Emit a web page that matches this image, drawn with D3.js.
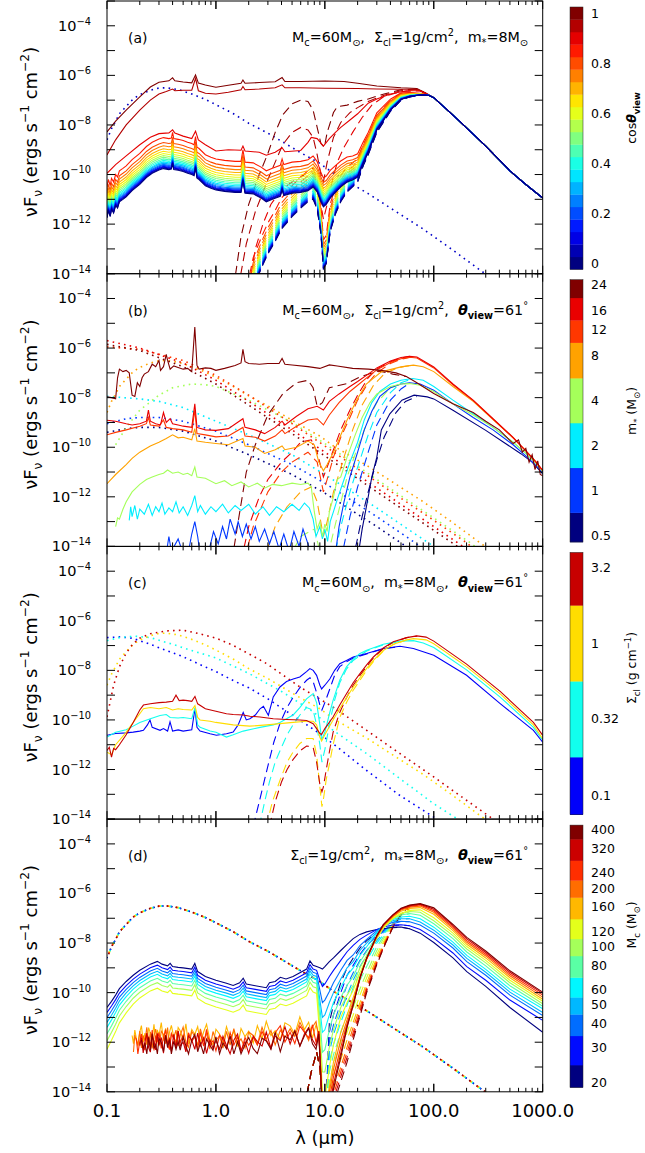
<!DOCTYPE html>
<html>
<head>
<meta charset="utf-8">
<script src="https://cdn.jsdelivr.net/npm/d3@7"></script>
<style>
  body { margin: 0; background: #fff; }
  svg { display: block; font-family: "DejaVu Sans", sans-serif; }
  text { white-space: pre; }
</style>
</head>
<body>
<svg id="chart" width="645" height="1153"></svg>
<script>
// ---------- axes ----------
const xTickValues = [0.1, 1, 10, 100, 1000];
const xTickLabels = ['0.1', '1.0', '10.0', '100.0', '1000.0'];
const yTickExps = [-4, -6, -8, -10, -12, -14];

// ---------- shared stellar spectrum (m*=8, Sigma=1, Mc=60), log10 nuFnu ----------
const starSed = [[0.1,-8.6],[0.11,-8.15],[0.12,-7.85],[0.13,-7.55],[0.15,-7.25],[0.174,-6.95],[0.2,-6.78],[0.25,-6.6],[0.3,-6.51],[0.35,-6.5],[0.45,-6.57],[0.6,-6.75],[0.8,-6.97],[1,-7.18],[1.45,-7.55],[2,-7.93],[3,-8.33],[5.9,-9.1],[9,-9.55],[12,-9.95],[25,-10.77],[49,-11.6],[77,-12.15],[100,-12.5],[150,-13.05],[265,-13.85],[400,-14.4]];

// ---------- panel (a): viewing angle ----------
const cosValues = [1, 0.95, 0.9, 0.85, 0.8, 0.75, 0.7, 0.65, 0.6, 0.55, 0.5, 0.45, 0.4, 0.35, 0.3, 0.25, 0.2, 0.15, 0.1, 0.05, 0];
const cosTicks = [0, 0.2, 0.4, 0.6, 0.8, 1];
const aTail = [[100,-6.9],[150,-7.6],[200,-8.12],[300,-8.85],[500,-9.85],[700,-10.4],[1000,-10.95]];
const aSolid100 = [[0.1,-8.28],[0.12,-7.85],[0.15,-7.4],[0.2,-6.87],[0.25,-6.47],[0.3,-6.28],[0.37,-6.22],[0.4,-6.1],[0.42,-6.22],[0.5,-6.27],[0.6,-6.3],[0.65,-5.98],[0.69,-6.31],[0.8,-6.39],[1,-6.48],[1.3,-6.4],[1.7,-6.32],[1.77,-6.19],[1.85,-6.32],[2.5,-6.29],[3.5,-6.26],[4.05,-6.09],[4.3,-6.25],[6,-6.25],[10,-6.23],[15,-6.25],[20,-6.32],[30,-6.43],[50,-6.5],[70,-6.53],[85,-6.72]];
const aSolid095 = [[0.1,-9.21],[0.12,-8.6],[0.15,-8.0],[0.2,-7.4],[0.25,-7.0],[0.3,-6.75],[0.35,-6.65],[0.4,-6.55],[0.42,-6.62],[0.5,-6.6],[0.6,-6.6],[0.65,-6.12],[0.69,-6.62],[0.8,-6.72],[1,-6.75],[1.3,-6.68],[1.7,-6.58],[1.77,-6.45],[1.85,-6.58],[2.5,-6.55],[3.5,-6.5],[4.05,-6.38],[4.3,-6.5],[6,-6.5],[10,-6.52],[20,-6.53],[30,-6.55],[50,-6.56],[70,-6.56],[85,-6.74]];
const aSolid090 = [[0.1,-9.95],[0.12,-9.6],[0.15,-9.25],[0.2,-8.8],[0.25,-8.5],[0.3,-8.35],[0.37,-8.32],[0.4,-8.2],[0.42,-8.33],[0.5,-8.45],[0.6,-8.55],[0.65,-8.25],[0.69,-8.6],[0.8,-8.8],[1,-9.05],[1.3,-9.0],[1.7,-9.02],[1.77,-8.85],[1.85,-9.05],[2.5,-9.1],[2.9,-9.22],[3.5,-9.1],[4.05,-8.92],[4.3,-9.08],[6,-9.03],[7,-8.7],[7.5,-8.5],[8.5,-8.55],[9.7,-8.85],[11,-8.55],[12.5,-8.3],[14,-8.1],[17,-7.8],[20,-7.55],[25,-7.12],[30,-6.95],[40,-6.75],[56,-6.62],[75,-6.62],[90,-6.78]];
// cos=0 member of the lower bundle, the other members sit above it by a lift that fades out towards the peak
const aBundleBase = [[0.1,-11.75],[0.103,-11.45],[0.107,-11.7],[0.11,-11.4],[0.115,-11.55],[0.12,-11.25],[0.125,-11.35],[0.13,-11.1],[0.14,-11.0],[0.15,-10.9],[0.17,-10.65],[0.2,-10.4],[0.23,-10.12],[0.26,-9.95],[0.3,-9.82],[0.33,-9.76],[0.37,-9.8],[0.39,-9.78],[0.4,-9.55],[0.41,-9.8],[0.45,-9.83],[0.5,-9.88],[0.55,-9.95],[0.6,-10.0],[0.63,-10.05],[0.65,-9.72],[0.67,-10.15],[0.7,-10.2],[0.8,-10.45],[0.9,-10.55],[1,-10.62],[1.2,-10.68],[1.5,-10.72],[1.7,-10.72],[1.77,-10.25],[1.85,-10.75],[2.2,-10.78],[2.6,-10.95],[2.9,-11.1],[3.3,-11.0],[3.9,-10.88],[4.05,-10.62],[4.2,-10.85],[5,-10.75],[6,-10.72],[7,-10.65],[7.8,-10.5],[8.5,-10.7],[9.2,-11.1],[9.7,-11.3],[10.3,-11.2],[11.2,-10.95],[12.5,-10.72],[14,-10.5],[16,-10.3],[18,-10.22],[20,-10.1],[22.5,-9.55],[25,-9.1],[30,-8.2],[40,-7.4],[50,-6.97],[60,-6.85],[75,-6.79],[90,-6.8]];
const aBundleLift = [1.25, 1.05, 0.92, 0.8, 0.7, 0.61, 0.53, 0.46, 0.39, 0.33, 0.27, 0.22, 0.17, 0.13, 0.09, 0.06, 0.03, 0];
const aLiftFade = [[0.1,1],[8,1],[10,0.92],[20,0.75],[30,0.55],[40,0.35],[55,0.15],[75,0.05],[90,0]];
const aDash100 = [[1.45,-14.6],[1.7,-12.5],[2,-11.2],[2.5,-10.0],[3,-9.15],[3.5,-8.3],[4.1,-7.6],[5,-7.15],[6,-7.0],[7,-7.05],[7.8,-7.4],[8.5,-8.1],[9.2,-8.75],[9.9,-8.9],[10.5,-8.3],[12,-7.5],[13,-7.26],[16,-7.2],[20,-7.05],[25,-6.95],[35,-6.75],[50,-6.58],[70,-6.55],[85,-6.72]];
const aDash095 = [[1.6,-14.6],[1.9,-12.8],[2.3,-11.5],[3,-10.2],[3.5,-9.5],[4.1,-8.8],[5,-8.3],[6,-8.1],[7,-8.2],[7.8,-8.5],[8.5,-9.2],[9.2,-10.0],[9.7,-10.3],[10.5,-9.5],[12,-8.5],[14,-7.9],[17,-7.5],[20,-7.3],[25,-7.05],[35,-6.8],[50,-6.62],[70,-6.57],[85,-6.74]];
const aDash090 = [[2.0,-14.6],[2.3,-13.0],[2.7,-12.0],[3.2,-11.2],[4,-10.6],[5,-10.3],[6,-10.1],[7,-9.9],[7.8,-9.9],[8.5,-10.3],[9.2,-11.2],[9.7,-11.8],[10.5,-11.2],[11.5,-10.4],[13,-9.5],[15,-8.9],[18,-8.3],[22,-7.7],[27,-7.2],[35,-6.85],[50,-6.65],[75,-6.62],[90,-6.78]];
const aDashBase = [[1.6,-17.5],[2.2,-14.6],[2.6,-13.8],[3,-13.2],[3.5,-12.7],[4,-12.2],[5,-11.7],[6,-11.35],[7,-11.1],[7.8,-11.0],[8.5,-11.4],[9.2,-12.4],[9.7,-13.8],[10.3,-13.6],[11.2,-12.3],[12.5,-11.6],[14,-11.1],[16,-10.7],[18,-10.5],[20,-10.3],[22.5,-9.65],[25,-9.2],[30,-8.3],[40,-7.45],[50,-7.0],[60,-6.87],[75,-6.8],[90,-6.8]];

// ---------- panel (b): stellar mass ----------
const mStarValues = [0.5, 1, 2, 4, 8, 12, 16, 24];
const bSolid05 = [[20,-14.5],[22,-13.3],[24.3,-12.3],[27,-11.2],[30,-10.4],[33,-9.3],[39.5,-8.65],[51,-8.1],[66,-7.9],[87,-7.97],[100,-8.05],[150,-8.51],[300,-9.32],[630,-10.26],[800,-10.6],[1000,-11.07]];
const bSolid1 = [[0.35,-14.3],[0.37,-13.6],[0.39,-14.2],[0.45,-13.7],[0.5,-14.3],[0.55,-14.4],[0.6,-13.5],[0.64,-13.0],[0.68,-13.6],[0.72,-14.4],[0.85,-14.3],[0.95,-13.4],[1.05,-13.9],[1.15,-13.2],[1.25,-13.7],[1.35,-12.9],[1.5,-13.5],[1.6,-13.0],[1.75,-13.6],[1.9,-13.1],[2.1,-13.7],[2.3,-13.2],[2.5,-13.8],[2.8,-13.3],[3.1,-13.9],[3.4,-13.4],[3.8,-14.1],[4.2,-13.5],[4.7,-14.2],[5.2,-13.4],[5.8,-14.0],[6.3,-13.3],[7,-13.9],[7.6,-14.5],[9,-14.6],[11,-14.6],[12.5,-14.3],[13.5,-13.2],[15,-12.2],[17,-11.2],[20,-10.2],[23,-9.3],[27,-8.55],[32,-7.95],[40,-7.6],[50,-7.45],[60,-7.4],[75,-7.45],[100,-7.7],[150,-8.25],[230,-8.8],[350,-9.3],[535,-9.9],[700,-10.35],[850,-10.7],[1000,-11.0]];
const bSolid2 = [[0.16,-12.95],[0.165,-12.4],[0.17,-12.8],[0.18,-12.35],[0.19,-12.9],[0.2,-12.5],[0.22,-12.7],[0.24,-12.3],[0.26,-12.75],[0.28,-12.4],[0.3,-12.6],[0.32,-12.25],[0.34,-12.7],[0.37,-12.45],[0.4,-12.6],[0.43,-12.2],[0.46,-12.65],[0.5,-12.4],[0.55,-12.75],[0.6,-12.35],[0.64,-11.95],[0.68,-12.6],[0.72,-12.35],[0.8,-12.7],[0.9,-12.4],[1,-12.6],[1.15,-12.3],[1.3,-12.65],[1.5,-12.35],[1.7,-12.55],[2,-12.3],[2.3,-12.7],[2.7,-12.4],[3.1,-12.75],[3.6,-12.4],[4.2,-12.6],[5,-12.3],[5.8,-12.55],[6.5,-12.25],[7.2,-12.45],[7.8,-12.9],[8.3,-13.6],[9,-13.2],[9.5,-13.7],[10,-13.3],[10.6,-13.8],[11.2,-13.0],[12,-12.6],[13,-12.1],[15,-11.3],[17,-10.6],[20,-9.8],[23,-8.9],[27,-8.2],[32,-7.75],[40,-7.45],[50,-7.3],[64,-7.23],[80,-7.3],[100,-7.55],[150,-8.1],[230,-8.65],[350,-9.2],[535,-9.8],[700,-10.25],[850,-10.6],[1000,-10.97]];
const bSolid4 = [[0.12,-13.2],[0.125,-12.85],[0.13,-12.9],[0.14,-12.5],[0.15,-12.2],[0.17,-11.8],[0.2,-11.5],[0.23,-11.3],[0.26,-11.2],[0.3,-11.1],[0.33,-11.05],[0.36,-10.92],[0.4,-11.05],[0.45,-11.0],[0.5,-11.1],[0.55,-11.05],[0.6,-11.15],[0.64,-10.8],[0.67,-11.2],[0.8,-11.25],[1,-11.47],[1.2,-11.35],[1.4,-11.55],[1.7,-11.4],[2,-11.6],[2.4,-11.45],[2.8,-11.65],[3.3,-11.5],[4,-11.55],[5,-11.45],[6,-11.5],[7,-11.45],[7.5,-11.6],[8,-12.6],[8.5,-13.3],[9,-13.0],[9.5,-13.6],[10,-13.1],[10.5,-13.4],[11,-12.6],[12,-12.0],[13,-11.3],[14,-11.2],[16,-10.4],[19,-9.5],[22,-8.8],[26,-8.2],[30,-7.85],[40,-7.55],[50,-7.45],[60,-7.43],[75,-7.5],[100,-7.75],[150,-8.25],[230,-8.7],[350,-9.2],[535,-9.8],[700,-10.25],[850,-10.6],[1000,-10.97]];
const bSolid8 = [[0.1,-11.47],[0.12,-11.1],[0.15,-10.7],[0.17,-10.45],[0.2,-10.2],[0.25,-9.95],[0.3,-9.8],[0.35,-9.65],[0.4,-9.5],[0.45,-9.62],[0.5,-9.6],[0.6,-9.7],[0.64,-9.25],[0.67,-9.75],[0.8,-9.8],[1,-9.85],[1.3,-9.9],[1.77,-9.65],[1.85,-9.95],[2.3,-10.0],[2.8,-10.25],[3.5,-10.1],[4.05,-9.95],[4.3,-10.1],[5.5,-10.0],[7,-9.75],[8,-9.9],[8.8,-10.6],[9.7,-10.95],[10.5,-10.7],[12,-10.2],[13,-9.85],[16,-8.9],[19.6,-8.1],[24,-7.45],[33,-6.96],[50,-6.76],[65,-6.69],[80,-6.75],[100,-6.95],[150,-7.55],[230,-8.15],[350,-8.88],[535,-9.62],[700,-10.15],[850,-10.55],[1000,-10.95]];
const bSolid12 = [[0.1,-9.5],[0.12,-9.4],[0.15,-9.3],[0.2,-9.15],[0.23,-9.05],[0.24,-8.8],[0.25,-9.1],[0.3,-9.15],[0.33,-8.9],[0.35,-9.2],[0.4,-9.25],[0.5,-9.3],[0.6,-9.4],[0.64,-8.5],[0.67,-9.45],[0.8,-9.5],[1,-9.58],[1.3,-9.55],[1.77,-9.2],[1.85,-9.55],[2.3,-9.6],[2.8,-9.75],[3.5,-9.55],[4.05,-9.3],[4.3,-9.45],[5.5,-9.15],[7,-8.9],[8.5,-8.85],[9.7,-9.1],[11,-8.7],[13.5,-8.2],[17,-7.75],[20,-7.5],[25,-7.15],[30,-6.88],[40,-6.58],[50,-6.43],[60,-6.37],[70,-6.4],[100,-6.8],[150,-7.48],[230,-8.12],[350,-8.87],[535,-9.62],[700,-10.15],[850,-10.55],[1000,-10.95]];
const bSolid16 = [[0.1,-8.91],[0.12,-8.95],[0.15,-9.05],[0.17,-9.1],[0.2,-9.05],[0.23,-8.95],[0.24,-8.5],[0.25,-8.95],[0.28,-9.05],[0.31,-9.1],[0.33,-8.6],[0.35,-9.0],[0.38,-8.85],[0.4,-9.05],[0.45,-9.1],[0.5,-9.15],[0.6,-9.2],[0.64,-8.25],[0.67,-9.2],[0.8,-9.3],[1,-9.32],[1.3,-9.25],[1.77,-8.85],[1.85,-9.2],[2.3,-9.3],[2.8,-9.45],[3.5,-9.2],[4.05,-8.95],[4.3,-9.1],[5.5,-8.75],[7,-8.45],[8.5,-8.35],[9.7,-8.5],[11,-8.15],[13.5,-7.85],[17,-7.55],[20,-7.35],[25,-7.05],[30,-6.8],[40,-6.52],[50,-6.38],[60,-6.33],[70,-6.36],[100,-6.76],[150,-7.45],[230,-8.1],[350,-8.85],[535,-9.6],[700,-10.15],[850,-10.55],[1000,-10.93]];
const bSolid24 = [[0.1,-7.97],[0.11,-8.0],[0.12,-8.05],[0.125,-7.2],[0.13,-6.85],[0.14,-6.95],[0.15,-6.9],[0.16,-7.0],[0.17,-7.9],[0.18,-7.95],[0.19,-7.4],[0.2,-7.55],[0.21,-7.2],[0.22,-7.05],[0.24,-6.95],[0.26,-6.65],[0.28,-6.75],[0.3,-6.5],[0.31,-6.9],[0.33,-6.75],[0.35,-6.25],[0.36,-6.5],[0.38,-6.85],[0.41,-6.72],[0.45,-6.78],[0.5,-6.85],[0.55,-6.82],[0.6,-6.95],[0.64,-5.15],[0.67,-6.7],[0.7,-6.85],[0.8,-6.8],[0.9,-6.82],[1,-6.9],[1.2,-6.82],[1.5,-6.7],[1.7,-6.6],[1.77,-6.05],[1.85,-6.55],[2,-6.62],[2.5,-6.65],[3,-6.62],[3.8,-6.62],[4.05,-6.42],[4.3,-6.65],[5,-6.68],[7,-6.75],[9,-6.82],[11,-6.68],[13,-6.72],[18,-6.82],[25,-6.85],[33,-6.9],[45,-7.0],[56,-7.15],[70,-7.4],[100,-7.83],[150,-8.25],[230,-8.6],[300,-8.95],[400,-9.3],[535,-9.85],[600,-9.7],[650,-10.2],[700,-10.05],[750,-10.6],[800,-10.3],[850,-10.9],[900,-10.55],[950,-11.1],[1000,-11.15]];
const bDash05 = [[18,-14.6],[22,-12.8],[25,-11.8],[30,-10.5],[35,-9.6],[45,-8.6],[55,-8.15],[70,-7.95]];
const bDash1 = [[14,-14.6],[17,-12.8],[20,-11.6],[25,-10.2],[30,-9.1],[40,-8.1],[50,-7.65],[60,-7.42]];
const bDash2 = [[7,-14.6],[8,-14.0],[9,-14.6],[12,-14.6],[14,-13.2],[17,-11.8],[20,-10.8],[25,-9.5],[30,-8.6],[40,-7.8],[50,-7.4],[64,-7.23]];
const bDash4 = [[4.5,-14.6],[6,-13.6],[8,-13.3],[9.5,-14.6],[11,-14.1],[13,-12.8],[16,-11.2],[20,-10.0],[25,-8.9],[30,-8.2],[40,-7.6],[50,-7.45],[60,-7.43]];
const bDash8 = [[2.7,-14.6],[3.5,-13.2],[4.5,-12.4],[6,-11.8],[7.5,-11.6],[8.5,-12.2],[9.7,-13.6],[10.5,-13.0],[12,-11.8],[15,-10.4],[18,-9.3],[22,-8.3],[28,-7.5],[35,-7.05],[45,-6.82],[55,-6.73],[65,-6.69]];
const bDash12 = [[1.8,-14.6],[2.2,-13.2],[3,-11.8],[4,-11.0],[5,-10.6],[7,-10.2],[8.5,-10.6],[9.7,-11.8],[10.5,-11.3],[12,-10.4],[14,-9.6],[17,-8.8],[20,-8.1],[25,-7.4],[30,-7.0],[40,-6.62],[50,-6.45],[60,-6.38]];
const bDash16 = [[1.7,-14.6],[2,-13.2],[2.5,-12.0],[3,-11.3],[4,-10.6],[5,-10.2],[6,-9.8],[7.5,-9.7],[8.5,-10.2],[9.7,-11.2],[10.5,-10.8],[12,-10.1],[14,-9.3],[17,-8.5],[20,-7.9],[25,-7.2],[30,-6.85],[40,-6.55],[50,-6.4],[60,-6.33]];
const bDash24 = [[1.4,-14.6],[1.6,-13.0],[1.9,-11.0],[2.3,-9.9],[3,-8.7],[4.1,-7.85],[5.5,-7.4],[7,-7.3],[7.8,-7.6],[8.5,-8.35],[9.5,-8.2],[11,-7.6],[16,-7.43],[21,-7.16],[31,-6.92],[42,-7.05],[56,-7.15]];
const bDot05 = [[0.1,-9.4],[0.15,-9.25],[0.2,-9.2],[0.3,-9.2],[0.5,-9.35],[1,-9.75],[2,-10.3],[5,-11.1],[10,-11.85],[30,-13.2],[60,-14.1],[80,-14.5]];
const bDot1 = [[0.1,-9.05],[0.15,-8.85],[0.2,-8.8],[0.3,-8.8],[0.5,-8.95],[1,-9.35],[2,-9.9],[5,-10.7],[10,-11.45],[30,-12.8],[60,-13.7],[100,-14.4]];
const bDot2 = [[0.1,-7.95],[0.2,-8.05],[0.3,-8.15],[0.5,-8.4],[1,-8.95],[2,-9.5],[5,-10.3],[10,-11.1],[30,-12.45],[60,-13.35],[100,-14.0],[150,-14.5]];
const bDot4 = [[0.12,-9.9],[0.15,-9.2],[0.2,-8.5],[0.3,-7.9],[0.4,-7.6],[0.6,-7.45],[0.8,-7.48],[1,-7.55],[2,-8.1],[5,-9.0],[10,-9.85],[30,-11.3],[100,-12.85],[200,-13.75],[320,-14.4]];
const bDot12 = [[0.1,-5.95],[0.2,-6.05],[0.5,-6.5],[1,-7.1],[2,-7.9],[5,-9.05],[10,-9.95],[30,-11.4],[100,-12.95],[200,-13.85],[320,-14.6]];
const bDot16 = [[0.1,-5.7],[0.2,-6.0],[0.5,-6.6],[1,-7.3],[2,-8.15],[5,-9.3],[10,-10.2],[30,-11.65],[100,-13.2],[200,-14.1],[280,-14.6]];
const bDot24 = [[0.1,-5.85],[0.2,-6.1],[0.5,-6.75],[1,-7.45],[2,-8.3],[5,-9.45],[10,-10.35],[30,-11.8],[100,-13.35],[200,-14.25],[260,-14.6]];

// ---------- panel (c): clump surface density ----------
const sigmaValues = [0.1, 0.32, 1, 3.2];
const cSolid01 = [[0.1,-10.62],[0.12,-10.55],[0.15,-10.52],[0.174,-10.49],[0.2,-10.45],[0.216,-10.42],[0.235,-10.2],[0.248,-10.0],[0.26,-10.3],[0.307,-10.42],[0.33,-10.35],[0.36,-10.45],[0.379,-10.08],[0.4,-10.45],[0.45,-10.4],[0.5,-10.45],[0.6,-10.4],[0.642,-9.55],[0.67,-10.3],[0.715,-10.45],[0.884,-10.56],[1.01,-10.62],[1.25,-10.56],[1.44,-10.49],[1.6,-10.2],[1.78,-9.7],[1.9,-10.0],[2.05,-9.95],[2.3,-9.8],[2.54,-9.55],[2.73,-9.45],[2.93,-9.7],[3.03,-9.81],[3.36,-9.07],[3.87,-8.67],[4.45,-8.45],[5.12,-8.35],[5.89,-8.27],[6.79,-8.05],[7.29,-7.93],[7.81,-8.0],[8.4,-8.2],[9.0,-8.6],[9.34,-8.75],[10,-8.6],[11.1,-8.35],[12.3,-8.0],[13.7,-7.73],[15.8,-7.6],[18.2,-7.46],[24.2,-7.32],[34.4,-7.12],[49,-7.03],[65,-7.12],[100,-7.39],[200,-8.2],[407,-9.34],[822,-10.42],[1000,-10.9]];
const cSolid032 = [[0.1,-10.69],[0.12,-10.5],[0.15,-10.4],[0.174,-10.25],[0.2,-10.1],[0.25,-9.95],[0.307,-9.82],[0.35,-9.78],[0.38,-9.9],[0.45,-9.92],[0.5,-9.9],[0.6,-9.95],[0.642,-9.5],[0.68,-10.2],[0.715,-10.3],[0.884,-10.45],[1.0,-10.5],[1.25,-10.69],[1.44,-10.6],[1.78,-10.45],[2.54,-10.3],[3.36,-10.2],[3.87,-10.1],[4.45,-9.95],[5.12,-9.8],[5.89,-9.5],[6.79,-9.15],[7.81,-8.94],[8.4,-9.3],[9.0,-10.2],[9.34,-10.8],[10,-10.5],[11.1,-9.7],[11.9,-9.21],[13.7,-8.4],[15.8,-7.86],[18.2,-7.55],[21,-7.32],[24.2,-7.19],[34.4,-6.95],[49,-6.82],[65,-6.8],[80,-6.9],[100,-7.08],[200,-7.98],[407,-9.08],[822,-10.3],[1000,-10.82]];
const cSolid1 = [[0.1,-11.3],[0.11,-11.4],[0.12,-11.0],[0.15,-10.5],[0.174,-10.1],[0.2,-9.75],[0.216,-9.55],[0.25,-9.5],[0.3,-9.55],[0.35,-9.5],[0.4,-9.6],[0.45,-9.55],[0.5,-9.58],[0.6,-9.6],[0.642,-9.42],[0.68,-9.9],[0.715,-10.0],[0.884,-10.05],[1.0,-10.1],[1.44,-10.2],[2.05,-10.25],[2.93,-10.2],[3.87,-10.15],[5.12,-10.1],[6.79,-10.05],[7.81,-10.05],[8.4,-10.2],[9.0,-10.7],[9.34,-10.85],[10,-10.6],[11.9,-10.0],[13.7,-9.55],[15.8,-9.1],[18.2,-8.68],[21,-8.3],[24.2,-7.92],[27.9,-7.6],[34.4,-7.2],[42.5,-6.95],[56.4,-6.77],[65,-6.72],[85,-6.77],[100,-6.93],[200,-7.85],[407,-8.95],[822,-10.2],[1000,-10.76]];
const cSolid32 = [[0.1,-11.23],[0.105,-11.1],[0.11,-11.5],[0.115,-11.15],[0.12,-11.2],[0.13,-11.0],[0.15,-10.6],[0.174,-10.1],[0.2,-9.6],[0.216,-9.4],[0.25,-9.35],[0.3,-9.3],[0.35,-9.28],[0.4,-9.25],[0.43,-9.0],[0.46,-9.22],[0.5,-9.2],[0.55,-9.22],[0.6,-9.25],[0.642,-9.05],[0.68,-9.35],[0.8,-9.55],[1.0,-9.65],[1.25,-9.75],[1.44,-9.78],[1.78,-9.8],[2.05,-9.85],[2.54,-9.88],[3.36,-9.95],[4.45,-9.98],[5.89,-10.0],[6.79,-10.02],[7.81,-10.15],[8.4,-10.35],[9.0,-10.55],[9.34,-10.58],[10,-10.35],[11.9,-9.88],[13.7,-9.4],[15.8,-8.94],[18.2,-8.5],[21,-8.13],[24.2,-7.78],[27.9,-7.46],[34.4,-7.1],[42.5,-6.85],[56.4,-6.68],[70,-6.61],[85,-6.66],[100,-6.82],[200,-7.75],[407,-8.85],[822,-10.1],[1000,-10.62]];
const cDash01 = [[2.2,-14.3],[2.5,-13.3],[2.8,-12.4],[3.1,-11.6],[3.4,-10.9],[3.9,-10.1],[4.5,-9.5],[5.1,-9.1],[5.9,-8.7],[6.8,-8.4],[7.3,-8.3],[7.8,-8.45],[8.4,-8.9],[9,-9.4],[9.4,-9.6],[10,-9.3],[11.1,-8.75],[12.3,-8.2],[13.7,-7.85],[15.8,-7.65],[18.2,-7.5],[24.2,-7.34],[34.4,-7.13],[49,-7.04]];
const cDash032 = [[2.5,-14.3],[2.8,-13.3],[3.1,-12.5],[3.5,-11.7],[4,-11.1],[4.5,-10.6],[5.1,-10.2],[5.9,-9.8],[6.8,-9.5],[7.8,-9.6],[8.4,-10.2],[9,-11.0],[9.4,-11.7],[10,-11.2],[11.1,-10.1],[12.3,-9.2],[13.7,-8.5],[15.8,-7.95],[18.2,-7.6],[24.2,-7.22],[34.4,-6.97],[49,-6.83]];
const cDash1 = [[2.9,-14.3],[3.3,-13.3],[3.9,-12.4],[4.5,-11.7],[5.1,-11.3],[5.9,-10.95],[6.8,-10.75],[7.8,-10.75],[8.4,-11.4],[9,-12.7],[9.4,-13.5],[9.7,-13.2],[10.3,-12.4],[11.1,-11.7],[11.9,-11.0],[13.7,-9.9],[15.8,-9.3],[18.2,-8.8],[21,-8.4],[24.2,-8.0],[27.9,-7.65],[34.4,-7.22],[42.5,-6.96],[56.4,-6.77]];
const cDash32 = [[3.1,-14.3],[3.5,-13.3],[4,-12.5],[4.5,-12.0],[5.1,-11.6],[5.9,-11.25],[6.8,-11.05],[7.8,-11.1],[8.4,-11.7],[9,-12.6],[9.4,-12.9],[9.7,-12.7],[10.3,-12.0],[11.1,-11.2],[11.9,-10.5],[13.7,-9.7],[15.8,-9.1],[18.2,-8.6],[21,-8.2],[24.2,-7.85],[27.9,-7.5],[34.4,-7.12],[42.5,-6.87],[56.4,-6.68],[70,-6.62]];
const cDot01 = [[0.1,-6.68],[0.13,-6.65],[0.17,-6.7],[0.25,-6.95],[0.35,-7.2],[0.5,-7.45],[0.7,-7.75],[1,-8.05],[1.5,-8.45],[2,-8.7],[3,-9.15],[5,-9.8],[8,-10.4],[11.9,-10.96],[24.2,-12.04],[49,-13.05],[100,-13.92],[140,-14.4]];
const cDot032 = [[0.1,-6.8],[0.13,-6.68],[0.18,-6.62],[0.25,-6.68],[0.4,-6.95],[0.6,-7.2],[1,-7.5],[2,-8.12],[4,-8.85],[8,-9.7],[11.9,-10.42],[24.2,-11.36],[49,-12.37],[100,-13.38],[174,-14.06],[220,-14.4]];
const cDot32 = [[0.1,-9.88],[0.115,-8.6],[0.13,-7.86],[0.15,-7.3],[0.174,-6.92],[0.2,-6.7],[0.25,-6.52],[0.35,-6.41],[0.5,-6.38],[0.7,-6.52],[1,-6.7],[1.44,-6.99],[2.93,-7.73],[5.9,-8.67],[11.9,-9.48],[24.2,-10.42],[49,-11.36],[100,-12.3],[201,-13.25],[407,-14.2],[500,-14.5]];

// ---------- panel (d): clump mass ----------
const mcValues = [20, 30, 40, 50, 60, 80, 100, 120, 160, 200, 240, 320, 400];
// lower-mass clumps: short-wave shape of Mc=20 with constant offsets (Mc = 20 ... 120)
const dShortBase = [[0.1,-10.6],[0.11,-10.35],[0.12,-10.1],[0.13,-9.84],[0.15,-9.55],[0.174,-9.3],[0.2,-9.1],[0.25,-8.85],[0.29,-8.74],[0.32,-8.85],[0.36,-8.92],[0.38,-8.82],[0.4,-8.95],[0.45,-8.98],[0.5,-9.0],[0.6,-9.05],[0.64,-8.82],[0.68,-9.15],[0.8,-9.35],[1,-9.5],[1.25,-9.62],[1.44,-9.71],[1.65,-9.6],[1.78,-9.42],[1.9,-9.65],[2.3,-9.72],[2.9,-9.8],[3.1,-9.6],[3.5,-9.55],[3.9,-9.38],[4.4,-9.45],[5.1,-9.35],[5.9,-9.2],[6.8,-9.05],[7.3,-8.72],[7.8,-8.9],[8.4,-8.95]];
const dShortOffset = [0, -0.15, -0.28, -0.4, -0.52, -0.68, -0.86, -1.08];
// extra drop of the fainter low-mass curves towards 0.1 micron (Mc = 20 ... 120)
const dShortDrop = [0, 0.05, 0.12, 0.2, 0.28, 0.38, 0.48, 0.6];
const dDropFade = [[0.1,1],[0.13,0.5],[0.17,0.15],[0.22,0]];
// higher-mass clumps: noisy short-wave emission (Mc = 160 ... 400)
const dNoisyLam = [0.17,0.175,0.18,0.186,0.192,0.2,0.207,0.215,0.223,0.232,0.241,0.25,0.26,0.27,0.28,0.29,0.3,0.315,0.33,0.345,0.36,0.375,0.39,0.41,0.43,0.45,0.47,0.5,0.53,0.56,0.6,0.64,0.68,0.72,0.77,0.82,0.88,0.94,1.0,1.08,1.16,1.25,1.35,1.46,1.58,1.7,1.85,2.0,2.2,2.4,2.65,2.9,3.2,3.5,3.9,4.3,4.8,5.3,5.9,6.5,7.1,7.7,8.3,8.8];
const dNoise = [0.12,-0.22,0.31,-0.05,-0.38,0.18,0.42,-0.27,0.08,-0.41,0.26,0.02,-0.18,0.37,-0.33,0.15,-0.08,0.44,-0.29,0.21,-0.45,0.06,0.33,-0.14,-0.36,0.24,0.11,-0.26,0.39,-0.43,0.17,-0.02,0.29,-0.35,0.08,0.41,-0.2,-0.4,0.23,0.04,-0.31,0.36,-0.11,0.19,-0.44,0.28,-0.07,0.13,-0.37,0.32,-0.23,0.45,-0.16,0.01,-0.39,0.25,0.09,-0.28,0.38,-0.12,0.2,-0.42,0.14,-0.19];
const dNoisyTrend = [[0.17,-0.2],[0.25,0],[0.6,0],[1.5,-0.1],[3,0.05],[6,0.3],[8.8,0.2]];
const dNoisyLevel = [-11.65, -11.8, -11.9, -12.0, -12.1];
const dNoisyShift = [0, 9, 19, 31, 45];
const dNoisyStart = [0, 1, 3, 5, 6];
const dNoiseFloor = -12.47;
const dLongLam = [9, 9.5, 10, 11, 12, 14, 16, 18.2, 21, 24.2, 30, 34.4, 42, 50, 60, 75, 100, 150, 201, 300, 500, 1000];
const dLong = [
  [-9.0,-9.05,-8.95,-8.75,-8.6,-8.3,-8.05,-7.82,-7.65,-7.55,-7.45,-7.42,-7.36,-7.35,-7.42,-7.6,-7.98,-8.6,-9.15,-9.75,-10.6,-11.6],
  [-9.5,-9.75,-9.65,-9.35,-9.1,-8.7,-8.35,-8.09,-7.85,-7.68,-7.45,-7.35,-7.27,-7.26,-7.3,-7.45,-7.8,-8.4,-8.95,-9.5,-10.3,-11.12],
  [-9.9,-10.4,-10.3,-9.95,-9.6,-9.1,-8.7,-8.48,-8.1,-7.85,-7.5,-7.32,-7.16,-7.12,-7.14,-7.27,-7.6,-8.2,-8.75,-9.3,-10.1,-10.92],
  [-10.3,-11.0,-10.9,-10.4,-10.0,-9.45,-9.0,-8.75,-8.3,-8.0,-7.55,-7.3,-7.1,-7.02,-7.02,-7.15,-7.48,-8.08,-8.62,-9.18,-9.98,-10.8],
  [-10.6,-11.6,-11.5,-10.9,-10.4,-9.8,-9.3,-9.0,-8.5,-8.15,-7.6,-7.3,-7.05,-6.95,-6.92,-7.02,-7.36,-7.96,-8.5,-9.06,-9.86,-10.65],
  [-11.0,-12.4,-12.3,-11.5,-10.9,-10.2,-9.7,-9.35,-8.75,-8.35,-7.72,-7.35,-7.02,-6.87,-6.81,-6.88,-7.22,-7.82,-8.36,-8.92,-9.72,-10.55],
  [-11.4,-13.2,-13.2,-12.2,-11.5,-10.6,-10.1,-9.7,-9.0,-8.5,-7.8,-7.4,-7.02,-6.82,-6.73,-6.76,-7.1,-7.7,-8.24,-8.8,-9.6,-10.45],
  [-11.8,-14.0,-14.3,-13.0,-12.1,-11.0,-10.4,-9.9,-9.2,-8.6,-7.8,-7.4,-7.0,-6.8,-6.68,-6.66,-6.98,-7.6,-8.14,-8.7,-9.5,-10.35],
  [-12.2,-14.5,-14.8,-13.8,-12.8,-11.6,-10.9,-10.2,-9.35,-8.65,-7.75,-7.33,-6.95,-6.72,-6.6,-6.57,-6.84,-7.5,-8.05,-8.6,-9.4,-10.27],
  [-12.3,-14.6,-14.9,-14.0,-13.1,-11.9,-11.1,-10.35,-9.4,-8.65,-7.73,-7.3,-6.92,-6.67,-6.55,-6.51,-6.76,-7.42,-7.97,-8.52,-9.32,-10.18],
  [-12.4,-14.7,-15.1,-14.3,-13.4,-12.2,-11.25,-10.45,-9.42,-8.63,-7.72,-7.28,-6.9,-6.64,-6.52,-6.46,-6.7,-7.36,-7.9,-8.45,-9.25,-10.1],
  [-12.5,-14.8,-15.3,-14.6,-13.7,-12.45,-11.35,-10.5,-9.42,-8.62,-7.71,-7.27,-6.88,-6.62,-6.49,-6.43,-6.64,-7.3,-7.83,-8.38,-9.18,-10.03],
  [-12.6,-14.9,-15.5,-15.0,-13.9,-12.6,-11.4,-10.5,-9.4,-8.6,-7.7,-7.25,-6.86,-6.6,-6.47,-6.41,-6.58,-7.25,-7.77,-8.32,-9.12,-9.98]
];
const dDashStart = [[6.5,-14.6],[7.5,-13.2],[8.4,-12.4],[9.0,-13.0],[9.5,-14.4],[10.2,-14.8]];
const dDashLam = [11, 12, 14, 16, 18.2, 21, 24.2, 30, 36, 42, 50, 60];
const dDashRise = [
  [-11.2,-10.5,-9.6,-9.0,-8.6,-8.2,-7.9,-7.6,-7.45,-7.38,-7.36,-7.42],
  [-11.6,-10.9,-10.0,-9.3,-8.9,-8.45,-8.1,-7.7,-7.42,-7.3,-7.27,-7.3],
  [-12.0,-11.3,-10.4,-9.7,-9.2,-8.7,-8.3,-7.8,-7.45,-7.22,-7.13,-7.14],
  [-12.4,-11.7,-10.8,-10.1,-9.5,-8.95,-8.5,-7.9,-7.5,-7.18,-7.03,-7.02],
  [-12.8,-12.1,-11.2,-10.5,-9.8,-9.2,-8.7,-8.0,-7.55,-7.17,-6.97,-6.92],
  [-13.2,-12.5,-11.6,-10.9,-10.2,-9.5,-8.95,-8.15,-7.62,-7.2,-6.9,-6.82],
  [-13.6,-12.9,-12.0,-11.3,-10.6,-9.85,-9.2,-8.3,-7.7,-7.22,-6.87,-6.74],
  [-14.0,-13.3,-12.4,-11.6,-10.9,-10.1,-9.4,-8.45,-7.8,-7.25,-6.85,-6.68],
  [-14.3,-13.6,-12.7,-11.9,-11.2,-10.4,-9.6,-8.6,-7.88,-7.3,-6.85,-6.62],
  [-14.5,-13.9,-13.0,-12.2,-11.4,-10.6,-9.75,-8.7,-7.93,-7.33,-6.85,-6.58],
  [-14.6,-14.1,-13.2,-12.4,-11.6,-10.75,-9.85,-8.78,-7.97,-7.35,-6.85,-6.55],
  [-14.7,-14.3,-13.4,-12.6,-11.75,-10.85,-9.92,-8.82,-8.0,-7.37,-6.85,-6.52],
  [-14.8,-14.5,-13.6,-12.8,-11.9,-10.95,-10.0,-8.87,-8.02,-7.38,-6.85,-6.5]
];

// ---------- layout ----------
const X0 = 107, X1 = 542.7, PANEL_H = 272.7;
const PANEL_TOPS = [1, 273.7, 546.4, 819.1];
const CB_X = 570, CB_W = 13;

const svg = d3.select('#chart');
const xScale = d3.scaleLog().domain([0.1, 1000]).range([X0, X1]);

const clamp01 = v => Math.max(0, Math.min(1, v));
const jet = t => d3.rgb(255 * clamp01(1.5 - Math.abs(4 * t - 3)),
                        255 * clamp01(1.5 - Math.abs(4 * t - 2)),
                        255 * clamp01(1.5 - Math.abs(4 * t - 1))).formatHex();

const colorA = v => jet(v);
const colorB = m => jet(Math.log(m / 0.5) / Math.log(48));
const colorC = s => jet(0.12 + 0.81 * Math.log(s / 0.1) / Math.log(32));
const colorD = m => jet(Math.log(m / 20) / Math.log(20));

const pairScale = pairs => d3.scaleLog().domain(pairs.map(d => d[0])).range(pairs.map(d => d[1])).clamp(true);

// text with _{sub}, ^{sup}, _{!bold sub} and a bold italic theta
function richText(sel, str, fs) {
  const tokens = str.match(/(_\{[^}]*\}|\^\{[^}]*\}|θ|[^_^θ]+)/g) || [];
  let shift = 0;
  tokens.forEach(tok => {
    let txt = tok, size = fs, target = 0, bold = false;
    if (tok.startsWith('_{')) { txt = tok.slice(2, -1); size = fs * 0.68; target = fs * 0.3; }
    else if (tok.startsWith('^{')) { txt = tok.slice(2, -1); size = fs * 0.68; target = -fs * 0.42; }
    if (txt.startsWith('!')) { txt = txt.slice(1); bold = true; }
    const ts = sel.append('tspan').text(txt).attr('font-size', size).attr('dy', target - shift);
    if (bold) ts.attr('font-weight', 'bold');
    if (tok === 'θ') ts.attr('font-style', 'italic').attr('font-weight', 'bold');
    shift = target;
  });
}

function makePanel(i) {
  const top = PANEL_TOPS[i];
  const ys = d3.scaleLog().domain([1e-14, 1e-3]).range([top + PANEL_H, top]);
  svg.append('clipPath').attr('id', 'clip' + i)
    .append('rect').attr('x', X0).attr('y', top).attr('width', X1 - X0).attr('height', PANEL_H);
  const g = svg.append('g').attr('clip-path', `url(#clip${i})`);
  const line = d3.line().x(d => xScale(d[0])).y(d => ys(Math.pow(10, d[1])));
  return { top, ys, g, line };
}

function drawSeries(p, data, color, style, extra) {
  const path = p.g.append('path').attr('d', p.line(data))
    .attr('fill', 'none').attr('stroke', color)
    .attr('stroke-width', style === 'dot' ? 1.6 : 1.1);
  if (style === 'dash') path.attr('stroke-dasharray', '9,5');
  if (style === 'dot') path.attr('stroke-dasharray', extra && extra.dash ? extra.dash : '1.6,4.2')
    .attr('stroke-dashoffset', extra && extra.offset ? extra.offset : 0);
  return path;
}

function drawFrame(p, label, title, showX) {
  const { top, ys } = p;
  const bottom = top + PANEL_H;
  const f = svg.append('g').attr('stroke', '#000').attr('stroke-width', 1);
  for (let e = -14; e <= -3; e++) {
    const y = ys(Math.pow(10, e));
    f.append('line').attr('x1', X0).attr('x2', X0 + 8).attr('y1', y).attr('y2', y);
    f.append('line').attr('x1', X1 - 8).attr('x2', X1).attr('y1', y).attr('y2', y);
  }
  [0.1, 1, 10, 100].forEach(dec => {
    for (let k = 1; k <= 10; k++) {
      const v = dec * k;
      if (v > 1000) continue;
      const len = (k === 1 || k === 10) ? 8 : 4;
      const xx = xScale(v);
      f.append('line').attr('x1', xx).attr('x2', xx).attr('y1', bottom).attr('y2', bottom - len);
      f.append('line').attr('x1', xx).attr('x2', xx).attr('y1', top).attr('y2', top + len);
    }
  });
  f.append('rect').attr('x', X0).attr('y', top).attr('width', X1 - X0).attr('height', PANEL_H).attr('fill', 'none');

  yTickExps.forEach(e => {
    const t = svg.append('text').attr('x', 91).attr('y', ys(Math.pow(10, e)) + 5)
      .attr('text-anchor', 'end').attr('font-size', 14.5);
    richText(t, '10^{−' + (-e) + '}', 14.5);
  });
  const yl = svg.append('text').attr('text-anchor', 'middle')
    .attr('transform', `translate(37,${top + 131}) rotate(-90)`).attr('font-size', 18);
  richText(yl, 'νF_{ν} (ergs s^{−1} cm^{−2})', 18);

  svg.append('text').attr('x', 128).attr('y', top + 42).attr('font-size', 14).text(label);
  const tt = svg.append('text').attr('x', 528).attr('y', top + 41).attr('text-anchor', 'end').attr('font-size', 14.3);
  richText(tt, title, 14.3);

  if (showX) {
    xTickValues.forEach((v, i) => {
      svg.append('text').attr('x', xScale(v)).attr('y', 1117).attr('text-anchor', 'middle')
        .attr('font-size', 18).text(xTickLabels[i]);
    });
    svg.append('text').attr('x', (X0 + X1) / 2).attr('y', 1144).attr('text-anchor', 'middle')
      .attr('font-size', 18).text('λ (μm)');
  }
}

function drawColorbar(top, values, pos, colorOf, ticks, title, titleY) {
  const barTop = top + 6, barBot = top + 268.3;
  const sorted = values.slice().sort((a, b) => a - b);
  const g = svg.append('g');
  sorted.forEach((v, i) => {
    const lo = i === 0 ? barBot : (pos(v) + pos(sorted[i - 1])) / 2;
    const hi = i === sorted.length - 1 ? barTop : (pos(v) + pos(sorted[i + 1])) / 2;
    g.append('rect').attr('x', CB_X).attr('y', hi).attr('width', CB_W).attr('height', lo - hi + 0.3)
      .attr('fill', colorOf(v));
  });
  g.append('rect').attr('x', CB_X).attr('y', barTop).attr('width', CB_W).attr('height', barBot - barTop)
    .attr('fill', 'none').attr('stroke', '#222').attr('stroke-width', 0.5);
  ticks.forEach(v => {
    svg.append('text').attr('x', 591).attr('y', pos(v) + 4.5).attr('font-size', 12.5).text(String(v));
  });
  const t = svg.append('text').attr('text-anchor', 'middle')
    .attr('transform', `translate(636,${titleY}) rotate(-90)`).attr('font-size', 12.5);
  richText(t, title, 12.5);
}

// ---------- panel (a) ----------
const pa = makePanel(0);
const fade = pairScale(aLiftFade);
drawSeries(pa, starSed, jet(0.07), 'dot');
[aDash100, aDash095, aDash090].forEach((d, i) => drawSeries(pa, d, colorA(cosValues[i]), 'dash'));
aBundleLift.forEach((lift, i) => {
  const data = aDashBase.map(([l, v]) => [l, v + lift * fade(l)]);
  drawSeries(pa, data, colorA(cosValues[i + 3]), 'dash');
});
[aSolid100, aSolid095, aSolid090].forEach((d, i) => drawSeries(pa, d.concat(aTail), colorA(cosValues[i]), 'solid'));
aBundleLift.forEach((lift, i) => {
  const data = aBundleBase.map(([l, v]) => [l, v + lift * fade(l)]).concat(aTail);
  drawSeries(pa, data, colorA(cosValues[i + 3]), 'solid');
});
drawFrame(pa, '(a)', 'M_{c}=60M_{⊙},  Σ_{cl}=1g/cm^{2},  m_{*}=8M_{⊙}', false);
drawColorbar(PANEL_TOPS[0], cosValues, d3.scaleLinear().domain([-0.025, 1.025]).range([PANEL_TOPS[0] + 268.3, PANEL_TOPS[0] + 6]),
  colorA, cosTicks, 'cosθ_{!view}', 118);

// ---------- panel (b) ----------
const pb = makePanel(1);
const bDots = [bDot05, bDot1, bDot2, bDot4, starSed, bDot12, bDot16, bDot24];
const bDashes = [bDash05, bDash1, bDash2, bDash4, bDash8, bDash12, bDash16, bDash24];
const bSolids = [bSolid05, bSolid1, bSolid2, bSolid4, bSolid8, bSolid12, bSolid16, bSolid24];
bDots.forEach((d, i) => drawSeries(pb, d, colorB(mStarValues[i]), 'dot'));
bDashes.forEach((d, i) => drawSeries(pb, d, colorB(mStarValues[i]), 'dash'));
bSolids.forEach((d, i) => drawSeries(pb, d, colorB(mStarValues[i]), 'solid'));
drawFrame(pb, '(b)', 'M_{c}=60M_{⊙},  Σ_{cl}=1g/cm^{2},  θ_{!view}=61^{°}', false);
drawColorbar(PANEL_TOPS[1], mStarValues, d3.scaleLog().domain([0.5, 24]).range([PANEL_TOPS[1] + 261.3, PANEL_TOPS[1] + 11]),
  colorB, mStarValues, 'm_{*} (M_{⊙})', 411);

// ---------- panel (c) ----------
const pc = makePanel(2);
const cDots = [cDot01, cDot032, starSed, cDot32];
const cDashes = [cDash01, cDash032, cDash1, cDash32];
const cSolids = [cSolid01, cSolid032, cSolid1, cSolid32];
cDots.forEach((d, i) => drawSeries(pc, d, colorC(sigmaValues[i]), 'dot'));
cDashes.forEach((d, i) => drawSeries(pc, d, colorC(sigmaValues[i]), 'dash'));
cSolids.forEach((d, i) => drawSeries(pc, d, colorC(sigmaValues[i]), 'solid'));
drawFrame(pc, '(c)', 'M_{c}=60M_{⊙},  m_{*}=8M_{⊙},  θ_{!view}=61^{°}', false);
drawColorbar(PANEL_TOPS[2], sigmaValues, d3.scaleLog().domain([0.1, 3.2]).range([PANEL_TOPS[2] + 249, PANEL_TOPS[2] + 20.6]),
  colorC, sigmaValues, 'Σ_{cl} (g cm^{−1})', 668);

// ---------- panel (d) ----------
const pd = makePanel(3);
const dropFade = pairScale(dDropFade);
const trend = pairScale(dNoisyTrend);
mcValues.forEach((m, i) => {
  drawSeries(pd, starSed, colorD(m), 'dot', { dash: '1,8', offset: i * 0.42 });
});
mcValues.forEach((m, i) => {
  const data = dDashStart.concat(dDashLam.map((l, j) => [l, dDashRise[i][j]]));
  drawSeries(pd, data, colorD(m), 'dash');
});
mcValues.forEach((m, i) => {
  let shortPart;
  if (i < dShortOffset.length) {
    shortPart = dShortBase.map(([l, v]) => [l, v + dShortOffset[i] - dShortDrop[i] * dropFade(l)]);
  } else {
    const k = i - dShortOffset.length;
    shortPart = dNoisyLam.slice(dNoisyStart[k]).map((l, j) => [l, Math.max(dNoiseFloor,
      dNoisyLevel[k] + trend(l) + dNoise[(j + dNoisyShift[k]) % dNoise.length])]);
  }
  const longPart = dLongLam.map((l, j) => [l, dLong[i][j]]);
  drawSeries(pd, shortPart.concat(longPart), colorD(m), 'solid');
});
drawFrame(pd, '(d)', 'Σ_{cl}=1g/cm^{2},  m_{*}=8M_{⊙},  θ_{!view}=61^{°}', true);
drawColorbar(PANEL_TOPS[3], mcValues, d3.scaleLog().domain([20, 400]).range([PANEL_TOPS[3] + 263, PANEL_TOPS[3] + 10.6]),
  colorD, mcValues, 'M_{c} (M_{⊙})', 925);
</script>
</body>
</html>
